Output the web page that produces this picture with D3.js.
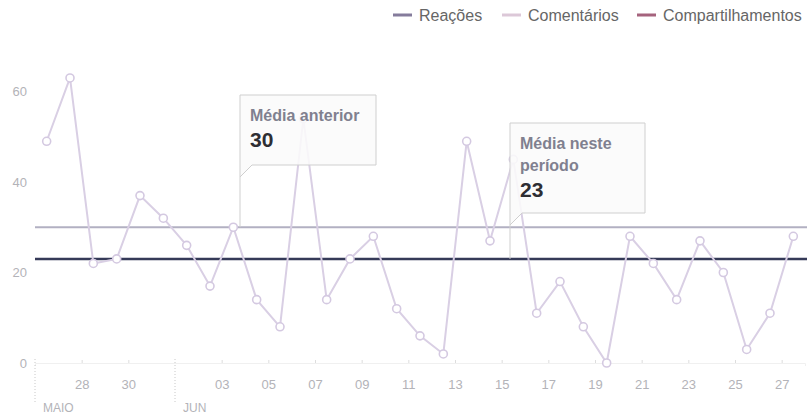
<!DOCTYPE html>
<html>
    <head>
        <meta charset="utf-8">
        <title>Engajamento</title>
        <script src="https://d3js.org/d3.v7.min.js"></script>
        <style type="text/css">
            body { margin: 0; background: #fff; font-family: "Liberation Sans", Arial, sans-serif; }
            .line { fill: none; stroke: #d9cfe4; stroke-width: 2; }
            .dot { fill: #fff; stroke: #d4c9e1; stroke-width: 1.6; }
            .axis text { fill: #b3b3b8; font-size: 13px; }
            .legend text { fill: #666; font-size: 16px; }
        </style>
    </head>
    <body>
        <script>
            var svgWidth = 807, svgHeight = 418;

            // one value per day, 27 May -> 28 Jun
            var startDay = new Date(2017, 4, 27);
            var reacoes = [49, 63, 22, 23, 37, 32, 26, 17, 30, 14, 8, 54, 14, 23, 28, 12, 6,
                           2, 49, 27, 45, 11, 18, 8, 0, 28, 22, 14, 27, 20, 3, 11, 28];
            var mediaAnterior = 30, mediaPeriodo = 23;
            var yTicks = [0, 20, 40, 60];
            var tickDays = [[4, 28], [4, 30], [5, 3], [5, 5], [5, 7], [5, 9], [5, 11], [5, 13], [5, 15],
                            [5, 17], [5, 19], [5, 21], [5, 23], [5, 25], [5, 27]];
            var months = [{label: "MAIO", m: 4, d: 26}, {label: "JUN", m: 5, d: 1}];
            var legendNames = ["Reações", "Comentários", "Compartilhamentos"];
            var legendColors = ["#857c9c", "#dcc8d8", "#a5637d"];

            var dataset = reacoes.map(function (v, i) {
                return { date: d3.timeDay.offset(startDay, i), y: v };
            });

            var xScale = d3.scaleTime()
                .domain([new Date(2017, 4, 26, 12), new Date(2017, 5, 28, 12)])
                .range([35, 805]);

            var yScale = d3.scaleLinear()
                .domain([0, 60])
                .range([363, 91.5]);

            var svg = d3.select("body").append("svg")
                .attr("width", svgWidth)
                .attr("height", svgHeight);

            // legend
            var legend = svg.append("g").attr("class", "legend");
            var lx = [393, 502, 637];
            legendNames.forEach(function (name, i) {
                legend.append("line")
                    .attr("x1", lx[i]).attr("x2", lx[i] + 19)
                    .attr("y1", 15).attr("y2", 15)
                    .attr("stroke", legendColors[i]).attr("stroke-width", 3);
                legend.append("text")
                    .attr("x", lx[i] + 26).attr("y", 21)
                    .text(name);
            });

            // axes
            var xAxis = svg.append("g")
                .attr("class", "x axis")
                .attr("transform", "translate(0,363)")
                .call(d3.axisBottom(xScale)
                    .tickValues(tickDays.map(function (t) { return new Date(2017, t[0], t[1], 12); }))
                    .tickFormat(d3.timeFormat("%d"))
                    .tickSize(3)
                    .tickPadding(14));
            xAxis.select(".domain").attr("stroke", "#f0f0f0");
            xAxis.selectAll(".tick line").attr("stroke", "#ddd").attr("transform", "translate(0,-3)");

            var yAxis = svg.append("g")
                .attr("class", "y axis")
                .attr("transform", "translate(30,0)")
                .call(d3.axisLeft(yScale).tickValues(yTicks).tickSize(0).tickPadding(3));
            yAxis.select(".domain").remove();

            // month markers
            months.forEach(function (mo) {
                var mx = xScale(new Date(2017, mo.m, mo.d, 12));
                svg.append("line")
                    .attr("x1", mx).attr("x2", mx)
                    .attr("y1", 359).attr("y2", 402)
                    .attr("stroke", "#c8c8c8")
                    .attr("stroke-dasharray", "1,2");
                svg.append("text")
                    .attr("x", mx + 8).attr("y", 412)
                    .attr("fill", "#b3b3b8")
                    .style("font-size", "12px")
                    .text(mo.label);
            });

            // average lines
            svg.append("line")
                .attr("x1", 35).attr("x2", 807)
                .attr("y1", yScale(mediaAnterior)).attr("y2", yScale(mediaAnterior))
                .attr("stroke", "#b2b0c2").attr("stroke-width", 2);
            svg.append("line")
                .attr("x1", 35).attr("x2", 807)
                .attr("y1", yScale(mediaPeriodo)).attr("y2", yScale(mediaPeriodo))
                .attr("stroke", "#353a58").attr("stroke-width", 2.5);

            var line = d3.line()
                .x(function (d) { return xScale(d.date); })
                .y(function (d) { return yScale(d.y); });

            svg.append("path")
                .datum(dataset)
                .attr("class", "line")
                .attr("d", line);

            svg.selectAll(".dot")
                .data(dataset).enter().append("circle")
                .attr("class", "dot")
                .attr("cx", function (d) { return xScale(d.date); })
                .attr("cy", function (d) { return yScale(d.y); })
                .attr("r", 4);

            // callouts
            function callout(x0, top, w, h, value, lines) {
                var bottom = top + h, anchor = yScale(value);
                var p = "M" + x0 + "," + anchor +
                        "V" + top + "H" + (x0 + w) + "V" + bottom +
                        "H" + (x0 + 12) + "L" + x0 + "," + (bottom + 12);
                svg.append("path")
                    .attr("d", p)
                    .attr("fill", "#fbfbfb")
                    .attr("fill-opacity", 0.88)
                    .attr("stroke", "#cfcfcf")
                    .attr("stroke-width", 1);
                var ty = top + 26;
                lines.forEach(function (t) {
                    svg.append("text")
                        .attr("x", x0 + 10).attr("y", ty)
                        .attr("fill", "#80808f")
                        .style("font-size", "16px")
                        .style("font-weight", "bold")
                        .text(t);
                    ty += 22;
                });
                svg.append("text")
                    .attr("x", x0 + 10).attr("y", ty + 4)
                    .attr("fill", "#2e2e33")
                    .style("font-size", "21px")
                    .style("font-weight", "bold")
                    .text(value);
            }

            callout(240, 95, 136, 70, mediaAnterior, ["Média anterior"]);
            callout(510, 123, 135, 90, mediaPeriodo, ["Média neste", "período"]);
        </script>
    </body>
</html>
